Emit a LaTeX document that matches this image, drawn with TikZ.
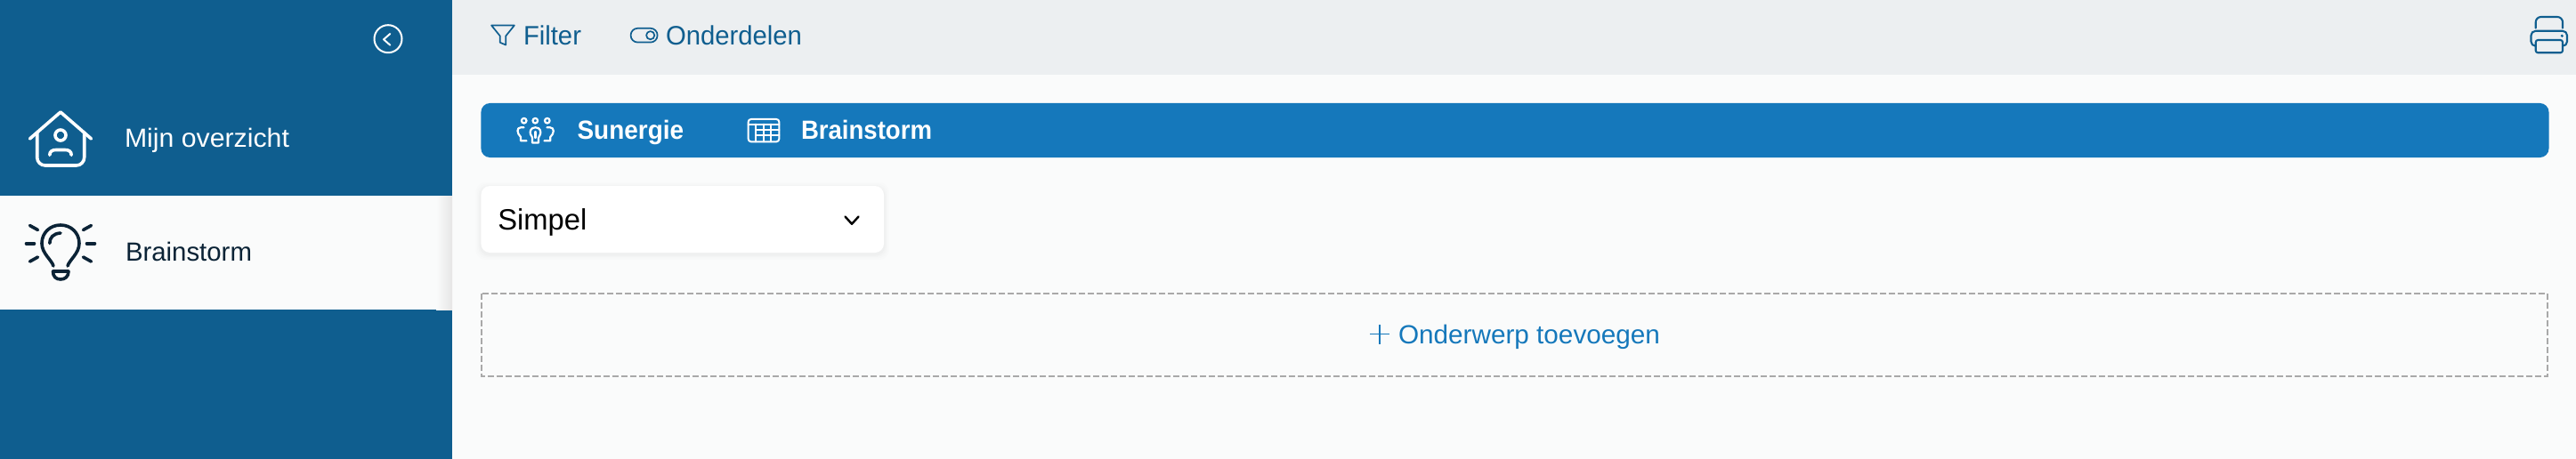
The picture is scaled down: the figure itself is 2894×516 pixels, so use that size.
\documentclass[tikz,border=0pt]{standalone}
\usepackage{fontspec}
\usepackage{graphicx}
\setmainfont{Liberation Sans}
\usetikzlibrary{calc}
\definecolor{side}{HTML}{0F5E8F}
\definecolor{topbar}{HTML}{ECEFF1}
\definecolor{page}{HTML}{FAFBFB}
\definecolor{barblue}{HTML}{1578BB}
\definecolor{ink}{HTML}{0B2336}
\definecolor{dashgrey}{HTML}{A9A9A9}
\newcommand{\fitw}[3]{{\fontsize{#1}{#1}\selectfont\resizebox{#2pt}{\height}{#3}}}
\tikzset{
  lbl/.style={anchor=base west,inner sep=0pt,outer sep=0pt},
  ico/.style={line cap=round,line join=round,line width=#1},
  ico/.default=2pt
}
\begin{document}
\begin{tikzpicture}[x=1pt,y=-1pt]
\useasboundingbox (0,0) rectangle (2894,516);
% backgrounds
\fill[page] (508,0) rectangle (2894,516);
\fill[topbar] (508,0) rectangle (2894,84);
\fill[side] (0,0) rectangle (508,516);
\fill[page] (0,220) rectangle (508,348);
\shade[left color=page,right color=black!10] (490,220) rectangle (508,348);
% collapse button
\draw[white,ico=2pt] (436,43.7) circle (15.5);
\draw[white,ico=2pt] (438.3,38) -- (431,44.3) -- (438.3,50.7);
% home icon
\begin{scope}[white,ico=3.6pt]
\draw (33.5,156) -- (68,126) -- (102.5,156);
\draw[rounded corners=9pt] (41.7,149) -- (41.7,186) -- (94.7,186) -- (94.7,149);
\draw (68,152) circle (6);
\draw (55.8,174.3) .. controls (55.8,170) and (59,168.5) .. (63,168.5) -- (73,168.5) .. controls (77,168.5) and (80.2,170) .. (80.2,174.3);
\end{scope}
\node[lbl,text=white] (mijn) at (140,166) {\fitw{29.5pt}{185}{Mijn overzicht}};
% bulb icon
\begin{scope}[ink,ico=3.6pt]
\draw (60,299) .. controls (58,292) and (47,285) .. (47,273.5) .. controls (47,261.5) and (56.5,253) .. (68,253) .. controls (79.5,253) and (89,261.5) .. (89,273.5) .. controls (89,285) and (78,292) .. (76,299);
\draw (55.8,273.5) .. controls (55.8,267) and (60,262.5) .. (68,262);
\draw (59.5,305) -- (77,305) .. controls (77,311) and (73,314) .. (68,314) .. controls (63,314) and (59.5,311) .. (59.5,305) -- cycle;
\draw (33.5,253.5) -- (42.5,258.5);
\draw (29.5,273.7) -- (38.5,273.7);
\draw (33.5,294) -- (42.5,289);
\draw (102.5,253.5) -- (93.5,258.5);
\draw (97.5,273.7) -- (106.5,273.7);
\draw (102.5,294) -- (93.5,289);
\end{scope}
\node[lbl,text=ink] (bs) at (141,293.5) {\fitw{29.5pt}{142}{Brainstorm}};
% top bar
\draw[side,ico=1.7pt] (552.1,28.5) -- (577.9,28.5) -- (568.2,40.5) -- (568.2,50.5) -- (561.8,47.8) -- (561.8,40.5) -- cycle;
\node[lbl,text=side] (filter) at (588,50.5) {\fitw{30pt}{65}{Filter}};
\draw[side,ico=1.7pt,rounded corners=7.8pt] (708.6,31.8) rectangle (738.6,47.6);
\draw[side,ico=1.7pt] (730.7,39.7) circle (4.6);
\node[lbl,text=side] (onder) at (748,50.5) {\fitw{30pt}{153}{Onderdelen}};
% printer
\begin{scope}[side,ico=2.1pt]
\draw[rounded corners=6pt] (2848.7,31.5) -- (2848.7,19) -- (2879,19) -- (2879,31.5);
\draw[rounded corners=5pt] (2848.7,51.7) -- (2843.5,51.7) -- (2843.5,34.8) -- (2884,34.8) -- (2884,51.7) -- (2879,51.7);
\draw[rounded corners=2.5pt] (2848.7,45) rectangle (2879,59.3);
\fill (2878.3,40.3) circle (1.7);
\end{scope}
% blue bar
\fill[barblue,rounded corners=10pt] (540.4,116) rectangle (2863.5,177);
\begin{scope}[white,ico=2.2pt]
\draw (588.7,135.7) circle (2.8);
\draw (601.3,135.7) circle (2.8);
\draw (614.8,135.7) circle (2.8);
\draw (588.5,143.3) -- (585,143.3) .. controls (580,143.3) and (580.7,150) .. (585,154) -- (585,158.3) -- (591.5,158.3);
\draw (614.5,143.3) -- (618,143.3) .. controls (623,143.3) and (623,150) .. (618.3,154) -- (618.3,158.3) -- (611.5,158.3);
\draw (601.5,143.3) .. controls (596,143.3) and (595,148) .. (596,151) .. controls (597,153) and (598,153.5) .. (598,155) -- (598,160.6) -- (605,160.6) -- (605,155) .. controls (605,153.5) and (606.5,153) .. (607,151) .. controls (608,148) and (607,143.3) .. (601.5,143.3) -- cycle;
\draw (601.5,148) -- (601.5,155);
\end{scope}
\node[lbl,text=white] (sun) at (648.6,157) {\fitw{29.5pt}{119.5}{\bfseries Sunergie}};
\begin{scope}[white,ico=2pt]
\draw[rounded corners=3pt] (840.7,134) rectangle (875.3,159.3);
\draw (840.7,139.7) -- (875.3,139.7);
\draw (849,139.7) -- (849,159.3);
\draw (849,146) -- (875.3,146);
\draw (849,152.5) -- (875.3,152.5);
\draw (857.7,139.7) -- (857.7,159.3);
\draw (866,139.7) -- (866,159.3);
\end{scope}
\node[lbl,text=white] (bs2) at (900,157) {\fitw{29.5pt}{147}{\bfseries Brainstorm}};
% select box
\foreach \o/\a in {6/0.006,4.5/0.008,3/0.01,1.5/0.014}
  \fill[black,opacity=\a,rounded corners=11pt] (540.4-\o,209-\o+2) rectangle (993+\o,284+\o+2);
\fill[white,rounded corners=10pt] (540.4,209) rectangle (993,284);
\node[lbl,text=black] (simpel) at (559.3,258.3) {\fitw{33pt}{100}{Simpel}};
\draw[black,ico=2.4pt] (949.5,243.5) -- (957,251.8) -- (964.5,243.5);
% add box
\draw[dashgrey,line width=2pt,dash pattern=on 7pt off 3pt] (541,329.5) rectangle (2862,422.7);
\draw[barblue,line width=1.6pt] (1539,375.5) -- (1561,375.5) (1550,364.5) -- (1550,386.5);
\node[lbl,text=barblue] (add) at (1571,386) {\fitw{29.5pt}{294}{Onderwerp toevoegen}};
\end{tikzpicture}
\end{document}
